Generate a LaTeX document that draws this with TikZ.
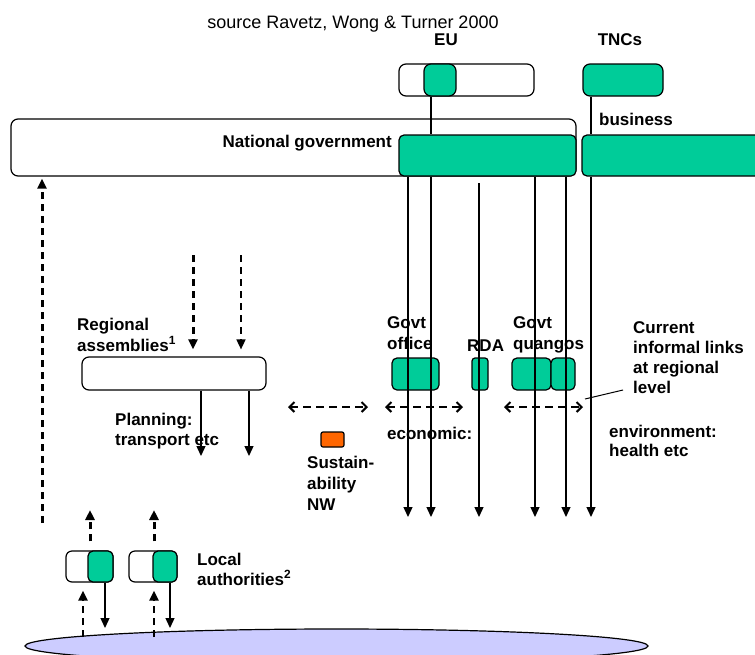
\documentclass[tikz,border=0pt]{standalone}
\usepackage{fontspec}
\setmainfont{Liberation Sans}
\usetikzlibrary{arrows.meta,shapes.misc,shapes.geometric}
\definecolor{gr}{HTML}{00CC99}
\definecolor{orng}{HTML}{FF6600}
\definecolor{lav}{HTML}{CCCCFF}
\begin{document}
\begin{tikzpicture}[x=1pt,y=-1pt,
  lw/.style={line width=1.2pt},
  wbox/.style={draw,lw,fill=white,rounded corners=7pt,inner sep=0pt},
  gbox/.style={draw,lw,fill=gr,rounded corners=7pt,inner sep=0pt},
  cbox/.style={draw,lw,fill=gr,rounded corners=5pt,inner sep=0pt},
  lbl/.style={inner sep=0pt,align=left,font=\fontsize{17}{21}\selectfont\bfseries},
  arr/.style={line width=1.3pt,-{Triangle[length=10pt,width=9pt]}},
  dthick/.style={line width=3pt,dash pattern=on 7pt off 5pt,-{Triangle[length=10pt,width=9pt]}},
  dmid/.style={line width=2.4pt,dash pattern=on 7pt off 5pt,-{Triangle[length=10pt,width=9pt]}},
  dthin/.style={line width=1.6pt,dash pattern=on 7pt off 5pt,-{Triangle[length=10pt,width=9pt]}},
  dboth/.style={line width=2.4pt,dash pattern=on 8pt off 5pt,{Straight Barb[length=5pt,width=10pt,line width=2pt]}-{Straight Barb[length=5pt,width=10pt,line width=2pt]}}]
\useasboundingbox (0,0) rectangle (755,654);
% boxes
\node[wbox,minimum width=565pt,minimum height=57pt] (natw) at (293.5,147.5) {};
\node[cbox,minimum width=177pt,minimum height=41pt] (natg) at (487.5,155.5) {};
\node[cbox,minimum width=178pt,minimum height=41pt] (bus) at (671,155.5) {};
\node[wbox,minimum width=135pt,minimum height=32pt] (euw) at (466.5,80) {};
\node[gbox,minimum width=32pt,minimum height=32pt] (eug) at (440,80) {};
\node[gbox,minimum width=80pt,minimum height=32pt] (tnc) at (623,80) {};
\node[wbox,minimum width=184pt,minimum height=33pt] (reg) at (174,373.5) {};
\node[cbox,minimum width=47pt,minimum height=32pt] (gof) at (415.5,374) {};
\node[cbox,rounded corners=3pt,minimum width=16pt,minimum height=32pt] (rda) at (480,374) {};
\node[cbox,minimum width=39pt,minimum height=32pt] (q1) at (531.5,374) {};
\node[cbox,minimum width=24pt,minimum height=32pt] (q2) at (563,374) {};
\node[draw,lw,fill=orng,rounded corners=2pt,inner sep=0pt,minimum width=23pt,minimum height=15pt] (sus) at (332.5,439.5) {};
\node[wbox,rounded corners=6pt,minimum width=47pt,minimum height=31pt] (la1w) at (89.5,566.5) {};
\node[cbox,minimum width=25pt,minimum height=31pt] (la1g) at (100.5,566.5) {};
\node[wbox,rounded corners=6pt,minimum width=48pt,minimum height=31pt] (la2w) at (153,566.5) {};
\node[cbox,minimum width=24pt,minimum height=31pt] (la2g) at (165,566.5) {};
\node[ellipse,draw,lw,fill=lav,inner sep=0pt,minimum width=623pt,minimum height=34pt] (pub) at (336.5,646) {};
% texts
\node[inner sep=0pt,anchor=base,font=\fontsize{18}{21}\selectfont] (src) at (353,28) {source Ravetz, Wong \& Turner 2000};
\node[lbl,anchor=base] (teu) at (446,45) {EU};
\node[lbl,anchor=base] (ttnc) at (620,45) {TNCs};
\node[lbl,anchor=base west] (tbus) at (599,125) {business};
\node[lbl,anchor=base east] (tnat) at (392,147) {National government};
\node[lbl,anchor=north west] (treg) at (77,317.6) {Regional\\assemblies\textsuperscript{1}};
\node[lbl,anchor=north west,font=\fontsize{17}{20}\selectfont\bfseries] (tplan) at (115,412.6) {Planning:\\transport etc};
\node[lbl,anchor=north west] (tgof) at (387,316.6) {Govt\\office};
\node[lbl,anchor=base west] (trda) at (467,351) {RDA};
\node[lbl,anchor=north west] (tq) at (513,316.6) {Govt\\quangos};
\node[lbl,anchor=north west,font=\fontsize{17}{20}\selectfont\bfseries] (tcur) at (633,321.6) {Current\\informal links\\at regional\\level};
\node[lbl,anchor=north west,font=\fontsize{17}{19}\selectfont\bfseries] (tenv) at (609,424.6) {environment:\\health etc};
\node[lbl,anchor=base west] (teco) at (387,439) {economic:};
\node[lbl,anchor=north west] (tsus) at (307,455.6) {Sustain-\\ability\\NW};
\node[lbl,anchor=north west,font=\fontsize{17}{20}\selectfont\bfseries] (tla) at (197,552.6) {Local\\authorities\textsuperscript{2}};
% coordinates
\coordinate (c1) at (408,517);
\coordinate (c2) at (431,517);
\coordinate (c3) at (479,517);
\coordinate (c4) at (535,517);
\coordinate (c5) at (566,517);
\coordinate (c6) at (591,517);
\coordinate (r0) at (479,183);
% vertical lines
\draw[line width=1.3pt] (c2 |- eug.south) -- (c2 |- natg.north);
\draw[line width=1.3pt] (c6 |- tnc.south) -- (c6 |- bus.north);
\foreach \c in {c1,c2,c4,c5} \draw[arr] (\c |- natg.south) -- (\c);
\draw[arr] (c6 |- bus.south) -- (c6);
\draw[arr] (r0) -- (c3);
% regional
\coordinate (d1) at (193,255);
\coordinate (d2) at (241,255);
\draw[dthick,shorten >=7pt] (d1) -- (d1 |- reg.north);
\draw[dthin,shorten >=7pt] (d2) -- (d2 |- reg.north);
\coordinate (p1) at (201,456);
\coordinate (p2) at (249,456);
\draw[arr] (p1 |- reg.south) -- (p1);
\draw[arr] (p2 |- reg.south) -- (p2);
% left up
\coordinate (u0) at (42,523);
\draw[dthick,shorten >=2pt] (u0) -- (u0 |- natw.south);
% local authorities
\coordinate (la1t) at (90,510);
\coordinate (la2t) at (154,510);
\draw[dthick,shorten <=9pt] (la1t |- la1w.north) -- (la1t);
\draw[dthick,shorten <=9pt] (la2t |- la2w.north) -- (la2t);
\coordinate (lb1) at (83,637);
\coordinate (lb2) at (154,637);
\draw[dmid,shorten >=8pt] (lb1) -- (lb1 |- la1w.south);
\draw[dmid,shorten >=8pt] (lb2) -- (lb2 |- la2w.south);
\coordinate (ld1) at (105,628);
\coordinate (ld2) at (170,628);
\draw[arr] (ld1 |- la1w.south) -- (ld1);
\draw[arr] (ld2 |- la2w.south) -- (ld2);
% horizontal links
\coordinate (h1a) at (288,407); \coordinate (h1b) at (368,407);
\coordinate (h2a) at (385,407); \coordinate (h2b) at (463,407);
\coordinate (h3a) at (504,407); \coordinate (h3b) at (583,407);
\draw[dboth] (h1a) -- (h1b);
\draw[dboth] (h2a) -- (h2b);
\draw[dboth] (h3a) -- (h3b);
\coordinate (pt0) at (623,390);
\coordinate (pt1) at (585,399);
\draw[line width=1pt] (pt0) -- (pt1);
\end{tikzpicture}
\end{document}
